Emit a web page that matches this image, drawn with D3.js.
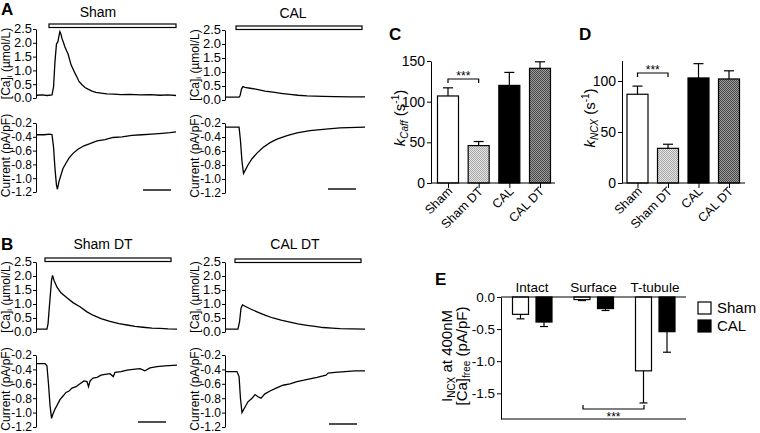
<!DOCTYPE html>
<html><head><meta charset="utf-8">
<script src="https://cdn.jsdelivr.net/npm/d3@7"></script>
<style>body{margin:0;background:#fff} svg{display:block;font-family:"Liberation Sans",Arial,sans-serif}</style>
</head><body><svg id="c" width="760" height="433"></svg>
<script>
// ---------- DATA ----------
const traceTitles = ["Sham", "CAL", "Sham DT", "CAL DT"];
const caTicks = [0, 0.5, 1, 1.5, 2, 2.5];
const curTicks = [-1.2, -1, -0.8, -0.6, -0.4, -0.2];

const shamCa = [[0,0.10],[3.6,0.11],[7.2,0.09],[10.8,0.11],[11.9,0.4],[12.9,1.3],[14,1.95],[15.1,2.05],[15.8,2.25],[16.5,2.4],[17.3,2.3],[18,2.15],[19.1,2.0],[20.1,1.85],[21.2,1.72],[22.3,1.6],[23.4,1.4],[24.5,1.2],[25.9,1.05],[27.3,0.9],[28.8,0.75],[30.2,0.6],[32.4,0.48],[34.5,0.38],[36.7,0.32],[39.6,0.25],[42.4,0.2],[46,0.18],[50.4,0.15],[55.4,0.14],[60.4,0.12],[66.9,0.13],[74.1,0.11],[81.3,0.12],[88.5,0.10],[94.2,0.11],[100,0.09]];
const shamCur = [[0,-0.37],[5,-0.37],[9.4,-0.36],[10.8,-0.37],[11.9,-0.55],[12.9,-0.85],[14,-1.1],[14.7,-1.16],[15.8,-1.05],[17.3,-0.95],[18.7,-0.86],[20.9,-0.78],[23,-0.71],[25.9,-0.64],[29.5,-0.58],[33.8,-0.53],[38.1,-0.5],[43.2,-0.46],[48.9,-0.44],[54.7,-0.41],[61.2,-0.4],[68.3,-0.38],[75.5,-0.37],[82.7,-0.36],[89.9,-0.35],[95.7,-0.34],[100,-0.33]];
const calCa = [[0,0.1],[4.3,0.1],[9.4,0.1],[10.1,0.15],[11.2,0.4],[12.2,0.48],[13.7,0.45],[17.3,0.42],[22.3,0.38],[28,0.32],[33.8,0.28],[39.6,0.24],[46,0.2],[51.8,0.17],[58.3,0.15],[64,0.14],[69.8,0.13],[78.4,0.12],[89.2,0.11],[100,0.11]];
const calCur = [[0,-0.26],[5,-0.26],[9.4,-0.26],[10.4,-0.45],[11.5,-0.75],[12.6,-0.92],[13.7,-0.88],[15.8,-0.8],[18.7,-0.71],[22.3,-0.63],[26.6,-0.55],[31.7,-0.48],[36.7,-0.43],[43.9,-0.38],[51.1,-0.34],[60.4,-0.31],[69.8,-0.29],[82,-0.27],[100,-0.26]];
const shamDtCa = [[0,0.1],[7.1,0.1],[7.9,0.3],[9.3,1.2],[10.4,1.85],[11.1,2.02],[12.1,1.85],[14.3,1.6],[17.1,1.4],[21.4,1.22],[25.7,1.05],[30.7,0.9],[35.7,0.72],[40,0.6],[45.7,0.48],[52.1,0.38],[58.6,0.3],[64.3,0.25],[70,0.2],[75.7,0.17],[82.1,0.14],[87.9,0.13],[93.6,0.11],[100,0.1]];
const shamDtCur = [[0,-0.32],[5.7,-0.32],[7.1,-0.35],[8.2,-0.6],[9.3,-0.9],[10.4,-1.08],[11.4,-1.02],[12.9,-0.95],[14.3,-0.9],[16.4,-0.82],[18.6,-0.77],[20.7,-0.72],[22.9,-0.7],[25,-0.66],[27.9,-0.64],[30.7,-0.6],[33.6,-0.56],[35.7,-0.57],[36.8,-0.64],[37.9,-0.56],[40,-0.52],[42.9,-0.51],[45.7,-0.48],[48.6,-0.47],[52.1,-0.46],[54.5,-0.5],[55.7,-0.44],[60,-0.43],[64.3,-0.41],[68.6,-0.4],[73.6,-0.39],[77.1,-0.42],[80.7,-0.38],[85.7,-0.36],[91.4,-0.35],[100,-0.34]];
const calDtCa = [[0,0.1],[8.6,0.1],[9.7,0.35],[10.8,0.85],[11.9,0.97],[13.7,0.92],[17.3,0.83],[22.3,0.72],[28,0.6],[33.8,0.5],[39.6,0.42],[46,0.35],[51.8,0.29],[58.3,0.24],[64,0.2],[69.8,0.16],[76.3,0.14],[82,0.12],[90.6,0.11],[100,0.1]];
const calDtCur = [[0,-0.43],[7.9,-0.43],[9.4,-0.5],[10.4,-0.8],[11.5,-1.0],[12.9,-0.95],[15.8,-0.85],[18.7,-0.8],[20.9,-0.75],[23,-0.78],[25.2,-0.8],[28,-0.74],[31.7,-0.7],[36,-0.66],[41,-0.62],[46,-0.6],[51.1,-0.57],[56.1,-0.55],[60.4,-0.53],[65.5,-0.51],[69.8,-0.49],[71.9,-0.48],[73.4,-0.45],[78.4,-0.44],[85.6,-0.43],[92.8,-0.42],[100,-0.42]];

const groups4 = ["Sham", "Sham DT", "CAL", "CAL DT"];
const kCaff = [107, 46, 120, 141];
const kCaffErr = [10, 5, 16, 8];
const kCaffTicks = [0, 50, 100, 150];
const kNcx = [87, 34, 103, 102];
const kNcxErr = [8, 4, 14, 8];
const kNcxTicks = [0, 50, 100];

const eGroups = ["Intact", "Surface", "T-tubule"];
const eSeries = ["Sham", "CAL"];
const eSham = [-0.27, -0.04, -1.15];
const eShamErr = [0.07, 0.015, 0.5];
const eCal = [-0.39, -0.18, -0.54];
const eCalErr = [0.07, 0.03, 0.32];
const eTicks = [0, -0.5, -1, -1.5];

// ---------- DRAW ----------
const svg = d3.select("#c");
const FF = '"Liberation Sans",Arial,sans-serif';

const defs = svg.append("defs");
function checker(id, a, b) {
  const p = defs.append("pattern").attr("id", id).attr("width", 2).attr("height", 2).attr("patternUnits", "userSpaceOnUse");
  p.append("rect").attr("width", 2).attr("height", 2).attr("fill", a);
  p.append("rect").attr("width", 1).attr("height", 1).attr("fill", b);
  p.append("rect").attr("x", 1).attr("y", 1).attr("width", 1).attr("height", 1).attr("fill", b);
}
checker("pLight", "#e4e4e4", "#a8a8a8");
checker("pDark", "#9a9a9a", "#4a4a4a");
const barFills = ["#fff", "url(#pLight)", "#000", "url(#pDark)"];

function styleAxis(g, fs, stretch) {
  g.attr("font-size", fs).attr("font-family", FF);
  g.selectAll("text").attr("fill", "#000");
  g.selectAll("path,line").attr("stroke", "#000");
  if (stretch) {
    g.selectAll(".tick text").each(function () {
      const x = +this.getAttribute("x");
      this.setAttribute("x", 0);
      this.setAttribute("transform", `translate(${x},0) scale(${stretch},1)`);
    });
  }
}

const fmt1 = d => d.toFixed(1);

const panels = [
  {title: traceTitles[0], ca: shamCa, cur: shamCur, ax: 36, x0: 37, x1: 176, caTop: 29, caBot: 98, curTop: 123, curBot: 192, bar: [49, 176, 24], tx: 98, ty: 17, sb: [143, 171, 190], lx: 10},
  {title: traceTitles[1], ca: calCa, cur: calCur, ax: 225, x0: 226, x1: 365, caTop: 30, caBot: 100, curTop: 123, curBot: 193, bar: [236, 362, 26], tx: 293, ty: 18, sb: [328, 356, 189], lx: 199},
  {title: traceTitles[2], ca: shamDtCa, cur: shamDtCur, ax: 36, x0: 37, x1: 177, caTop: 262, caBot: 332, curTop: 355, curBot: 427, bar: [45, 171, 258], tx: 103, ty: 249, sb: [138, 166, 422], lx: 10},
  {title: traceTitles[3], ca: calDtCa, cur: calDtCur, ax: 225, x0: 226, x1: 365, caTop: 262, caBot: 332, curTop: 355, curBot: 427, bar: [235, 361, 259], tx: 295, ty: 249, sb: [329, 357, 424], lx: 199}
];

panels.forEach(p => {
  const g = svg.append("g");
  const x = d3.scaleLinear().domain([0, 100]).range([p.x0, p.x1]);
  const yCa = d3.scaleLinear().domain([0, 2.5]).range([p.caBot, p.caTop]);
  const yCur = d3.scaleLinear().domain([-1.2, -0.2]).range([p.curBot, p.curTop]);
  const a1 = g.append("g").attr("transform", `translate(${p.ax},0)`)
    .call(d3.axisLeft(yCa).tickValues(caTicks).tickSize(3).tickSizeOuter(0).tickPadding(1).tickFormat(fmt1));
  styleAxis(a1, 12, 1.08);
  const a2 = g.append("g").attr("transform", `translate(${p.ax},0)`)
    .call(d3.axisLeft(yCur).tickValues(curTicks).tickSize(3).tickSizeOuter(0).tickPadding(1).tickFormat(fmt1));
  styleAxis(a2, 12);
  g.append("path").datum(p.ca).attr("fill", "none").attr("stroke", "#000").attr("stroke-width", 1.3)
    .attr("d", d3.line().x(d => x(d[0])).y(d => yCa(d[1])));
  g.append("path").datum(p.cur).attr("fill", "none").attr("stroke", "#000").attr("stroke-width", 1.3)
    .attr("d", d3.line().x(d => x(d[0])).y(d => yCur(d[1])));
  g.append("rect").attr("x", p.bar[0]).attr("y", p.bar[2]).attr("width", p.bar[1] - p.bar[0]).attr("height", 3.5)
    .attr("fill", "#fff").attr("stroke", "#000").attr("stroke-width", 1.2);
  g.append("text").attr("x", p.tx).attr("y", p.ty).attr("text-anchor", "middle").attr("font-size", 14).text(p.title);
  g.append("line").attr("x1", p.sb[0]).attr("x2", p.sb[1]).attr("y1", p.sb[2]).attr("y2", p.sb[2]).attr("stroke", "#222").attr("stroke-width", 1.6);
  const cl = g.append("text").attr("transform", `translate(${p.lx},${(p.caTop + p.caBot) / 2}) rotate(-90)`)
    .attr("text-anchor", "middle").attr("font-size", 12);
  cl.append("tspan").text("[Ca]");
  cl.append("tspan").attr("font-size", 8).attr("dy", 2).text("i");
  cl.append("tspan").attr("dy", -2).text(" (\u00b5mol/L)");
  g.append("text").attr("transform", `translate(${p.lx},${(p.curTop + p.curBot) / 2 - 2}) rotate(-90)`)
    .attr("text-anchor", "middle").attr("font-size", 12).text("Current (pA/pF)");
});

// panel letters
[["A", 1, 15], ["B", 1, 250], ["C", 389, 40], ["D", 579, 40], ["E", 435, 285]].forEach(l => {
  svg.append("text").attr("x", l[1]).attr("y", l[2]).attr("font-size", 17).attr("font-weight", "bold").text(l[0]);
});

// ---------- C and D bar charts ----------
function barPanel(o) {
  const g = svg.append("g");
  const x = d3.scalePoint().domain(groups4).range([o.c0, o.c1]);
  const y = d3.scaleLinear().domain([0, o.max]).range([183, o.top]);
  const bw = 21;
  g.selectAll("rect.b").data(groups4).join("rect")
    .attr("x", d => x(d) - bw / 2).attr("width", bw)
    .attr("y", (d, i) => y(o.vals[i])).attr("height", (d, i) => y(0) - y(o.vals[i]))
    .attr("fill", (d, i) => barFills[i]).attr("stroke", "#000").attr("stroke-width", 1.2);
  groups4.forEach((d, i) => {
    const cx = x(d), y1 = y(o.vals[i]), y2 = y(o.vals[i] + o.errs[i]);
    g.append("line").attr("x1", cx).attr("x2", cx).attr("y1", y1).attr("y2", y2).attr("stroke", "#000").attr("stroke-width", 1.2);
    g.append("line").attr("x1", cx - 5).attr("x2", cx + 5).attr("y1", y2).attr("y2", y2).attr("stroke", "#000").attr("stroke-width", 1.2);
  });
  const ay = g.append("g").attr("transform", `translate(${o.ax},0)`)
    .call(d3.axisLeft(y).tickValues(o.ticks).tickSize(4).tickSizeOuter(0).tickPadding(2));
  styleAxis(ay, 14);
  const ax = g.append("g").attr("transform", `translate(0,183)`)
    .call(d3.axisBottom(x).tickSize(5).tickSizeOuter(0).tickFormat(""));
  ax.select(".domain").remove();
  styleAxis(ax, 12);
  g.append("line").attr("x1", o.ax).attr("x2", o.xend).attr("y1", 183).attr("y2", 183).attr("stroke", "#000").attr("stroke-width", 1.2);
  groups4.forEach(d => {
    g.append("text").attr("transform", `translate(${x(d) + 5},${192}) rotate(-45)`)
      .attr("text-anchor", "end").attr("font-size", 12.5).text(d);
  });
  // significance bracket
  const bx0 = x(groups4[0]), bx1 = x(groups4[1]);
  g.append("path").attr("d", `M${bx0},${o.by + 4}V${o.by}H${bx1}V${o.by + 4}`).attr("fill", "none").attr("stroke", "#000").attr("stroke-width", 1.2);
  g.append("text").attr("x", (bx0 + bx1) / 2).attr("y", o.by + 1).attr("text-anchor", "middle").attr("font-size", 12).text("***");
  // y label
  const t = g.append("text").attr("transform", `translate(${o.lx},118) rotate(-90)`).attr("text-anchor", "middle").attr("font-size", 15);
  t.append("tspan").attr("font-style", "italic").text("k");
  t.append("tspan").attr("font-style", "italic").attr("font-size", 10).attr("dy", 3).text(o.sub);
  t.append("tspan").attr("dy", -3).text(" (s");
  t.append("tspan").attr("font-size", 10).attr("dy", -6).text("-1");
  t.append("tspan").attr("dy", 6).text(")");
}
barPanel({c0: 448, c1: 540, max: 150, top: 61, vals: kCaff, errs: kCaffErr, ticks: kCaffTicks, ax: 431, xend: 555, by: 79, lx: 405, sub: "Caff"});
barPanel({c0: 637.5, c1: 729, max: 120, top: 60.6, vals: kNcx, errs: kNcxErr, ticks: kNcxTicks, ax: 622, xend: 745, by: 73, lx: 595, sub: "NCX"});

// ---------- E ----------
(function () {
  const g = svg.append("g");
  const x = d3.scalePoint().domain(eGroups).range([532, 655]);
  const y = d3.scaleLinear().domain([-1.9, 0]).range([419, 297]);
  const bw = 16;
  const series = [{name: eSeries[0], vals: eSham, errs: eShamErr, off: -11.5, fill: "#fff"},
                  {name: eSeries[1], vals: eCal, errs: eCalErr, off: 12, fill: "#000"}];
  series.forEach(s => {
    eGroups.forEach((gname, i) => {
      const cx = x(gname) + s.off;
      g.append("rect").attr("x", cx - bw / 2).attr("width", bw).attr("y", y(0)).attr("height", y(s.vals[i]) - y(0))
        .attr("fill", s.fill).attr("stroke", "#000").attr("stroke-width", 1.2);
      const y1 = y(s.vals[i]), y2 = y(s.vals[i] - s.errs[i]);
      g.append("line").attr("x1", cx).attr("x2", cx).attr("y1", y1).attr("y2", y2).attr("stroke", "#000").attr("stroke-width", 1.2);
      g.append("line").attr("x1", cx - 4).attr("x2", cx + 4).attr("y1", y2).attr("y2", y2).attr("stroke", "#000").attr("stroke-width", 1.2);
    });
  });
  const ay = g.append("g").attr("transform", `translate(501,0)`)
    .call(d3.axisLeft(y).tickValues(eTicks).tickSize(4).tickSizeOuter(0).tickPadding(2).tickFormat(fmt1));
  styleAxis(ay, 12.5, 1.08);
  g.append("line").attr("x1", 501).attr("x2", 686).attr("y1", y(0)).attr("y2", y(0)).attr("stroke", "#000").attr("stroke-width", 1.2);
  g.append("line").attr("x1", 501).attr("x2", 686).attr("y1", 419).attr("y2", 419).attr("stroke", "#000").attr("stroke-width", 1.2);
  eGroups.forEach(gname => {
    g.append("text").attr("x", x(gname)).attr("y", 292).attr("text-anchor", "middle").attr("font-size", 13.5).text(gname);
  });
  // bracket
  g.append("path").attr("d", "M583,405V409H644V405").attr("fill", "none").attr("stroke", "#000").attr("stroke-width", 1.2);
  g.append("text").attr("x", 613.5).attr("y", 421).attr("text-anchor", "middle").attr("font-size", 12).text("***");
  // legend
  series.forEach((s, i) => {
    g.append("rect").attr("x", 698).attr("y", 302 + i * 18).attr("width", 13).attr("height", 12)
      .attr("fill", s.fill).attr("stroke", "#000").attr("stroke-width", 1.2);
    g.append("text").attr("x", 717).attr("y", 313 + i * 18).attr("font-size", 15).text(s.name);
  });
  // y label
  const t1 = g.append("text").attr("transform", "translate(452,356) rotate(-90)").attr("text-anchor", "middle").attr("font-size", 15);
  t1.append("tspan").text("I");
  t1.append("tspan").attr("font-size", 10).attr("dy", 3).text("NCX");
  t1.append("tspan").attr("dy", -3).text(" at 400nM");
  const t2 = g.append("text").attr("transform", "translate(467,356) rotate(-90)").attr("text-anchor", "middle").attr("font-size", 15);
  t2.append("tspan").text("[Ca]");
  t2.append("tspan").attr("font-size", 10).attr("dy", 3).text("free");
  t2.append("tspan").attr("dy", -3).text(" (pA/pF)");
})();
</script></body></html>
